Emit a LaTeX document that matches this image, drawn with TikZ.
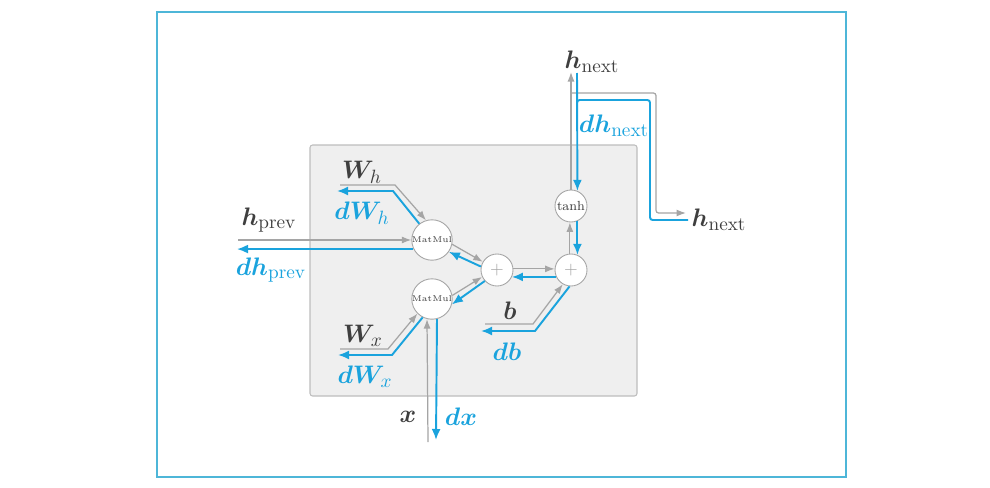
\documentclass[tikz,border=0pt]{standalone}
\usepackage{amsmath,bm}
\usetikzlibrary{arrows.meta}
\definecolor{flowcyan}{HTML}{1AA3DD}
\definecolor{flowgray}{HTML}{A5A5A5}
\definecolor{labelgray}{HTML}{3F3F3F}
\definecolor{boxfill}{HTML}{EFEFEF}
\definecolor{boxline}{HTML}{BDBDBD}
\definecolor{framecyan}{HTML}{4DB6D8}
\tikzset{every node/.style={font=\fontsize{15}{17}\selectfont},
  fwd/.style={-{Latex[length=1.9mm,width=1.4mm]},draw=flowgray,line width=.7pt},
  bwd/.style={-{Latex[length=2.2mm,width=1.8mm]},draw=flowcyan,line width=1.1pt},
  opnode/.style={circle,draw=flowgray,fill=white,line width=.5pt,
    minimum size=6.4mm,inner sep=0pt,text=labelgray},
  fwdlabel/.style={text=labelgray},
  bwdlabel/.style={text=flowcyan}}

\begin{document}
\begin{tikzpicture}[x=.2mm,y=-.2mm]
\useasboundingbox (0,0) rectangle (990,487);
\draw[framecyan,line width=1.1pt] (157,12) rectangle (846,477);
\draw[boxline,fill=boxfill,rounded corners=1.5pt,line width=.6pt] (310,145) rectangle (637,396);
\node[opnode,font=\fontsize{4.8}{5}\selectfont] (mmh) at (432,240) {MatMul};
\node[opnode,font=\fontsize{4.8}{5}\selectfont] (mmx) at (432,299) {MatMul};
\node[opnode,text=flowgray,font=\fontsize{10}{10}\selectfont] (addA) at (497,270) {$+$};
\node[opnode,text=flowgray,font=\fontsize{10}{10}\selectfont] (addB) at (571,270) {$+$};
\node[opnode,font=\fontsize{7.5}{8}\selectfont] (tanh) at (571,206) {tanh};
\coordinate (hprevL) at (238,240);
\coordinate (dhprevL) at (237,247);
\coordinate (whL) at (340,185);
\coordinate (dwhL) at (337,191);
\coordinate (wxL) at (340,349);
\coordinate (dwxL) at (338,355);
\coordinate (xB) at (428,442);
\coordinate (dxB) at (436,440);
\coordinate (bL) at (485,324);
\coordinate (dbL) at (481,331);
\coordinate (hnT) at (571,72);
\coordinate (dhnT) at (577,73);
\coordinate (split) at (571,93);
\coordinate (hnR) at (686,213);
\coordinate (dhnR) at (688,220);
\draw[fwd] (hprevL) -- (mmh.180);
\draw[bwd] (mmh.206) -- (mmh.206 -| dhprevL);
\draw[fwd] (whL) -- (395,185) -- (mmh.107);
\draw[bwd] (mmh.128) -- (393,191) -- (dwhL);
\draw[fwd] (wxL) -- (388,349) -- (mmx.225);
\draw[bwd] (mmx.243) -- (392,355) -- (dwxL);
\draw[fwd] (xB) -- (mmx.256);
\draw[bwd] (mmx.284) -- (dxB);
\draw[fwd] (mmh.-12) -- (addA.150);
\draw[bwd] (addA.168) -- (mmh.-35);
\draw[fwd] (mmx.10) -- (addA.205);
\draw[bwd] (addA.222) -- (mmx.-15);
\draw[fwd] (addA.4) -- (addB.176);
\draw[bwd] (addB.205) -- (addA.-25);
\draw[fwd] (bL) -- (533,324) -- (addB.240);
\draw[bwd] (addB.265) -- (535,331) -- (dbL);
\draw[fwd] (addB.94) -- (tanh.-94);
\draw[bwd] (tanh.-67) -- (addB.67);
\draw[fwd] (tanh.90) -- (hnT);
\draw[fwd,rounded corners=1.5pt] (split) -- (656,93) -- (656,213) -- (hnR);
\draw[bwd] (dhnT) -- (tanh.67);
\draw[flowcyan,line width=1.1pt,rounded corners=1.5pt] (dhnR) -- (650,220) -- (650,100) -- (577,100) -- (577,106);
\node[fwdlabel] (hprev) at (269,220) {$\bm{h}_{\mathrm{prev}}$};
\node[bwdlabel] (dhprev) at (271,270) {$\bm{dh}_{\mathrm{prev}}$};
\node[fwdlabel] (wh) at (362,172) {$\bm{W}_{h}$};
\node[bwdlabel] (dwh) at (362,213) {$\bm{dW}_{h}$};
\node[fwdlabel] (wx) at (363,336) {$\bm{W}_{x}$};
\node[bwdlabel] (dwx) at (365,377) {$\bm{dW}_{x}$};
\node[fwdlabel] (xlab) at (408,417) {$\bm{x}$};
\node[bwdlabel] (dxlab) at (461,417) {$\bm{dx}$};
\node[fwdlabel] (blab) at (510,311) {$\bm{b}$};
\node[bwdlabel] (dblab) at (507,352) {$\bm{db}$};
\node[fwdlabel] (hnexttop) at (592,62) {$\bm{h}_{\mathrm{next}}$};
\node[bwdlabel] (dhnext) at (614,126) {$\bm{dh}_{\mathrm{next}}$};
\node[fwdlabel] (hnextright) at (719,220) {$\bm{h}_{\mathrm{next}}$};
\end{tikzpicture}
\end{document}
